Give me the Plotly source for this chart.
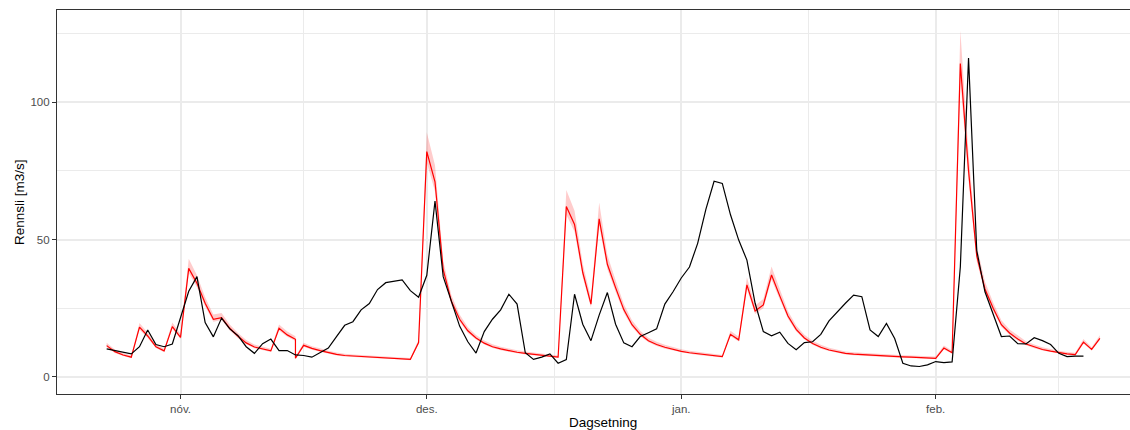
import pandas as pd
import plotly.graph_objects as go

# ---- data ----
obs_start = "2018-10-23"
obs_values = [
    10.2, 9.6, 9.0, 8.4, 11.0, 17.1, 11.8, 11.0, 12.0,           # Oct 23 - Oct 31
    21.7, 31.2, 36.5, 19.8, 14.6, 21.4, 17.5, 15.0, 11.0, 8.6,    # Nov 1 - 10
    12.1, 13.8, 9.6, 9.6, 8.0, 7.8, 7.2, 8.8, 10.5, 14.7,         # Nov 11 - 20
    18.8, 20.1, 24.4, 26.7, 31.8, 34.3, 34.8, 35.3, 31.4, 29.0,   # Nov 21 - 30
    37.0, 64.0, 36.5, 27.4, 18.5, 12.8, 8.7, 16.5, 21.0, 24.4,    # Dec 1 - 10
    30.1, 26.5, 8.8, 6.4, 7.2, 8.4, 5.0, 6.3, 30.1, 19.2,         # Dec 11 - 20
    13.2, 22.5, 30.7, 19.2, 12.4, 11.0, 14.7, 16.1, 17.5, 26.5,   # Dec 21 - 30
    31.0,                                                         # Dec 31
    36.0, 40.0, 48.6, 61.0, 71.2, 70.4, 59.0, 49.8, 42.5, 26.8,   # Jan 1 - 10
    16.5, 15.0, 16.3, 12.2, 9.9, 12.5, 12.8, 15.5, 20.4, 23.8,    # Jan 11 - 20
    26.8, 29.8, 29.2, 17.1, 14.7, 19.5, 14.0, 5.0, 4.0, 3.8,      # Jan 21 - 30
    4.4,                                                          # Jan 31
    5.6, 5.2, 5.5, 40.0, 116.0, 46.0, 31.0, 23.0, 14.7, 14.9,     # Feb 1 - 10
    12.1, 12.0, 14.3, 13.2, 11.8, 8.6, 7.4, 7.6, 7.6,             # Feb 11 - 19
]

# model run in two chunks (Nov 15 appears in both)
sim_chunks = [("2018-10-23", "2018-11-15"), ("2018-11-15", "2019-02-21")]
sim_values = [
    11.4, 9.2, 8.0, 7.2, 18.1, 14.9, 11.0, 9.5, 18.3,             # Oct 23 - 31
    14.4, 39.5, 34.1, 26.8, 21.0, 21.6, 17.7, 14.8, 12.4, 10.9,   # Nov 1 - 10
    10.2, 9.5, 17.7, 15.3, 13.7,                                  # Nov 11 - 15
    6.8, 11.5, 10.4, 9.6, 8.8, 8.2,                               # Nov 15 - 20
    7.8, 7.6, 7.4, 7.2, 7.0, 6.9, 6.8, 6.6, 6.4, 12.5,            # Nov 21 - 30
    82.0, 71.0, 39.0, 27.5, 21.0, 16.8, 14.2, 12.3, 11.0, 10.2,   # Dec 1 - 10
    9.5, 9.0, 8.6, 8.2, 7.9, 7.6, 7.2, 62.0, 55.5, 38.0,          # Dec 11 - 20
    26.5, 57.5, 41.0, 32.5, 24.5, 19.0, 15.5, 13.2, 11.8, 10.8,   # Dec 21 - 30
    10.0,                                                         # Dec 31
    9.3, 8.8, 8.4, 8.1, 7.8, 7.4, 15.5, 13.5, 33.5, 24.0,         # Jan 1 - 10
    26.2, 37.1, 29.5, 22.2, 17.3, 14.2, 12.2, 10.8, 9.8, 9.1,     # Jan 11 - 20
    8.6, 8.3, 8.1, 7.9, 7.7, 7.5, 7.4, 7.3, 7.2, 7.1,             # Jan 21 - 30
    7.0,                                                          # Jan 31
    6.8, 10.5, 8.8, 114.0, 75.0, 44.0, 32.0, 25.0, 19.0, 16.0,    # Feb 1 - 10
    13.8, 12.0, 10.9, 10.0, 9.4, 8.8, 8.4, 8.1, 12.7, 10.0,       # Feb 11 - 20
    14.0,                                                         # Feb 21
]
sim_lower = [
    10.8, 8.7, 7.6, 6.8, 17.3, 14.2, 10.5, 9.0, 17.5,
    13.8, 37.8, 32.6, 25.6, 20.1, 20.7, 16.9, 14.1, 11.9, 10.4,
    9.7, 9.1, 16.9, 14.6, 13.1,
    6.5, 11.0, 9.9, 9.2, 8.4, 7.8,
    7.4, 7.2, 7.1, 6.9, 6.7, 6.6, 6.5, 6.3, 6.1, 11.9,
    78.0, 67.5, 37.2, 26.3, 20.1, 16.0, 13.6, 11.8, 10.5, 9.7,
    9.1, 8.6, 8.2, 7.8, 7.5, 7.3, 6.9, 59.0, 52.8, 36.3,
    25.3, 55.0, 39.2, 31.0, 23.4, 18.2, 14.8, 12.6, 11.3, 10.3,
    9.6,
    8.9, 8.4, 8.0, 7.7, 7.4, 7.1, 14.8, 12.9, 32.0, 22.9,
    25.0, 35.4, 28.2, 21.2, 16.5, 13.6, 11.7, 10.3, 9.4, 8.7,
    8.2, 7.9, 7.7, 7.5, 7.4, 7.2, 7.1, 7.0, 6.9, 6.8,
    6.7,
    6.5, 10.0, 8.4, 108.0, 71.5, 42.0, 30.6, 23.9, 18.2, 15.3,
    13.2, 11.5, 10.4, 9.6, 9.0, 8.4, 8.0, 7.7, 12.1, 9.6,
    13.4,
]
sim_upper = [
    12.4, 10.0, 8.7, 7.8, 19.6, 16.1, 11.9, 10.3, 19.8,
    15.6, 43.0, 37.0, 29.0, 22.7, 23.3, 19.1, 16.0, 13.4, 11.8,
    11.0, 10.3, 19.1, 16.5, 14.8,
    7.4, 12.4, 11.2, 10.4, 9.5, 8.9,
    8.4, 8.2, 8.0, 7.8, 7.6, 7.5, 7.3, 7.1, 6.9, 13.5,
    89.0, 77.0, 42.2, 29.7, 22.7, 18.1, 15.3, 13.3, 11.9, 11.0,
    10.3, 9.7, 9.3, 8.9, 8.5, 8.2, 7.8, 68.0, 60.5, 41.2,
    28.7, 63.5, 44.4, 35.2, 26.5, 20.6, 16.8, 14.3, 12.8, 11.7,
    10.8,
    10.1, 9.5, 9.1, 8.8, 8.4, 8.0, 16.8, 14.6, 36.3, 26.0,
    28.4, 40.2, 32.0, 24.0, 18.7, 15.4, 13.2, 11.7, 10.6, 9.9,
    9.3, 9.0, 8.8, 8.5, 8.3, 8.1, 8.0, 7.9, 7.8, 7.7,
    7.6,
    7.4, 11.4, 9.5, 126.0, 81.5, 47.7, 34.7, 27.1, 20.6, 17.3,
    15.0, 13.0, 11.8, 10.8, 10.2, 9.5, 9.1, 8.8, 13.8, 10.8,
    15.2,
]

month_ticks = ["2018-11-01", "2018-12-01", "2019-01-01", "2019-02-01"]
month_labels = ["nóv.", "des.", "jan.", "feb."]
minor_x = ["2018-11-16", "2018-12-16 12:00", "2019-01-16 12:00", "2019-02-16"]
y_ticks = [0, 50, 100]
y_minor = [25, 75, 125]

# ---- build ----
obs_dates = pd.date_range(obs_start, periods=len(obs_values), freq="D")
sim_dates = []
for a, b in sim_chunks:
    sim_dates += list(pd.date_range(a, b, freq="D"))

FONT = "Liberation Sans, Arial, sans-serif"
GRID = "#EBEBEB"
DARK = "#333333"

fig = go.Figure()
fig.add_trace(go.Scatter(x=sim_dates, y=sim_upper, mode="lines",
                         line=dict(width=0), hoverinfo="skip", showlegend=False))
fig.add_trace(go.Scatter(x=sim_dates, y=sim_lower, mode="lines",
                         line=dict(width=0), fill="tonexty",
                         fillcolor="rgba(255,0,0,0.2)", hoverinfo="skip",
                         showlegend=False))
fig.add_trace(go.Scatter(x=sim_dates, y=sim_values, mode="lines",
                         line=dict(color="#FF0000", width=1.2), showlegend=False))
fig.add_trace(go.Scatter(x=obs_dates, y=obs_values, mode="lines",
                         line=dict(color="#000000", width=1.2), showlegend=False))

nov1 = pd.Timestamp("2018-11-01")
x0 = (nov1 + pd.Timedelta(days=-15.05)).isoformat()
x1 = (nov1 + pd.Timedelta(days=115.67)).isoformat()

fig.update_layout(
    width=1130, height=430,
    margin=dict(l=57, r=0, t=10, b=36),
    paper_bgcolor="white", plot_bgcolor="white",
    font=dict(family=FONT, size=11.5, color="#4D4D4D"),
    showlegend=False,
    xaxis=dict(
        type="date", range=[x0, x1],
        tickmode="array", tickvals=month_ticks, ticktext=month_labels,
        ticks="outside", ticklen=4, tickwidth=1, tickcolor=DARK,
        tickfont=dict(size=11.5, color="#4D4D4D", family=FONT),
        showgrid=True, gridcolor=GRID, gridwidth=1.5,
        minor=dict(tickvals=minor_x, showgrid=True, gridcolor=GRID,
                   gridwidth=1, ticks=""),
        showline=True, linecolor=DARK, linewidth=1.2, mirror=True,
        zeroline=False,
    ),
    yaxis=dict(
        range=[-6.2, 133.5],
        tickmode="array", tickvals=y_ticks, ticktext=[str(v) for v in y_ticks],
        ticks="outside", ticklen=4, tickwidth=1, tickcolor=DARK,
        tickfont=dict(size=11.5, color="#4D4D4D", family=FONT),
        showgrid=True, gridcolor=GRID, gridwidth=1.5,
        minor=dict(tickvals=y_minor, showgrid=True, gridcolor=GRID,
                   gridwidth=1, ticks=""),
        showline=True, linecolor=DARK, linewidth=1.2, mirror=False,
        zeroline=False,
    ),
    annotations=[
        dict(text="Rennsli [m3/s]", xref="paper", yref="paper",
             x=-0.0354, y=0.5, xanchor="center", yanchor="middle",
             textangle=-90, showarrow=False,
             font=dict(family=FONT, size=13.5, color="#000000")),
        dict(text="Dagsetning", xref="paper", yref="paper",
             x=0.5089, y=-0.0755, xanchor="center", yanchor="middle",
             showarrow=False,
             font=dict(family=FONT, size=13.5, color="#000000")),
    ],
)

fig.write_html("out.html")
